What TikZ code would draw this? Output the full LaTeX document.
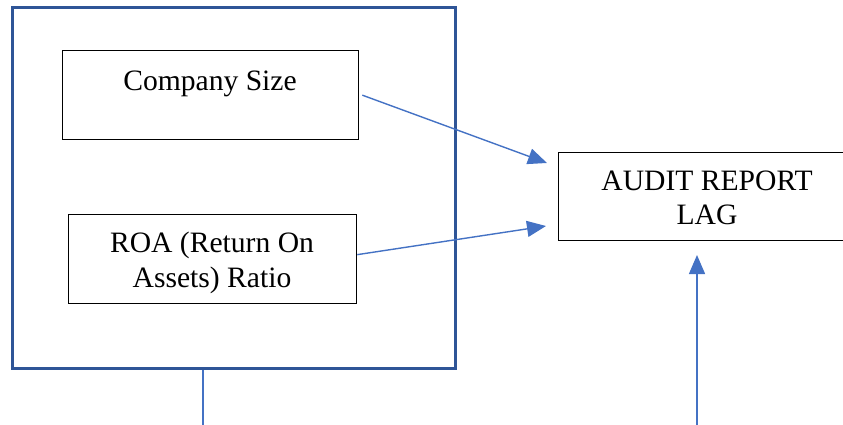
\documentclass[tikz,border=0pt]{standalone}
\usepackage{fontspec}
\setmainfont{Liberation Serif}
\usetikzlibrary{arrows.meta}
\definecolor{frameblue}{HTML}{2F5597}
\definecolor{linkblue}{HTML}{4472C4}
\begin{document}
\begin{tikzpicture}[x=1pt,y=-1pt,
  box/.style={draw=black,line width=1.3pt,rectangle,inner sep=0pt,anchor=north west},
  lbl/.style={font=\fontsize{29.6}{34}\selectfont,align=center,inner sep=0pt},
  link/.style={draw=linkblue,line width=1.4pt,-{Triangle[length=19pt,width=16pt]}},
  plain/.style={draw=linkblue,line width=1.4pt}]
\useasboundingbox (0,0) rectangle (843,425);
% outer frame
\node[draw=frameblue,line width=3pt,rectangle,inner sep=0pt,anchor=north west,
      minimum width=443pt,minimum height=361pt] (frame) at (11,6) {};
% variable boxes
\node[box,minimum width=296pt,minimum height=89pt] (cs) at (62,50) {};
\node[lbl] (cstext) at (210,84) {Company Size};
\node[box,minimum width=288pt,minimum height=89pt] (roa) at (68,214) {};
\node[lbl,font=\fontsize{29.6}{35}\selectfont] (roatext) at (212,263) {ROA (Return On\\Assets) Ratio};
\node[box,minimum width=290pt,minimum height=88pt] (arl) at (558,152) {};
\node[lbl] (arltext) at (707,198) {AUDIT REPORT\\LAG};
% connectors
\coordinate (t1) at (547,163);
\coordinate (t2) at (546,226);
\coordinate (t3) at (697,255);
\coordinate (b3) at (697,425);
\coordinate (b0) at (203,425);
\draw[link] ([xshift=3pt]cs.east) -- (t1);
\draw[link] ([yshift=4.5pt]roa.east) -- (t2);
\draw[link] (b3) -- (t3);
\draw[plain] (frame.south -| b0) -- (b0);
\end{tikzpicture}
\end{document}
